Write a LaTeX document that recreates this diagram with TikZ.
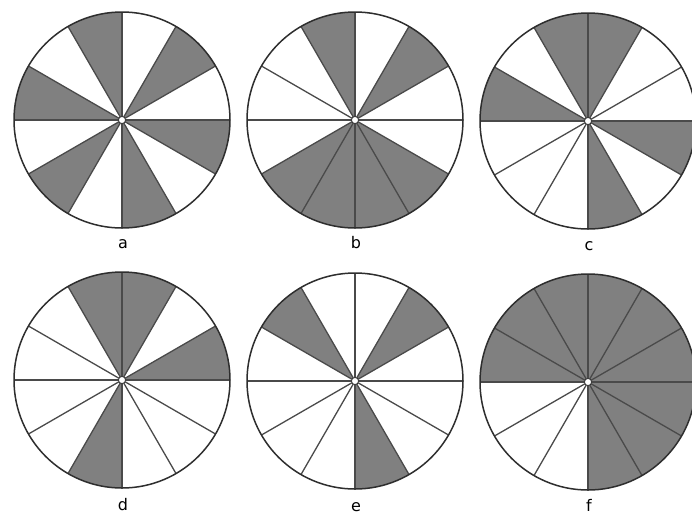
\documentclass[tikz,border=0pt]{standalone}
\usepackage{fontspec}
\setmainfont{DejaVu Sans}
\definecolor{sectorgray}{HTML}{808080}
\definecolor{spokegray}{HTML}{4A4A4A}
\definecolor{rimgray}{HTML}{2E2E2E}
\tikzset{
  sectorfill/.style={fill=sectorgray},
  spoke/.style={draw=spokegray, line width=1.3pt},
  rim/.style={draw=rimgray, line width=1.5pt},
  hub/.style={circle, fill=white, draw=rimgray, line width=0.7pt, inner sep=0pt, minimum size=7pt},
  lbl/.style={anchor=base, inner sep=0pt, font=\fontsize{16}{19}\selectfont, text=black}
}
\newcommand\pieDiagram[6]{%
  \begin{scope}[shift={(#1,#2)}, y=1pt]
    \foreach \k in {#3} {
      \fill[sectorfill] (0,0) -- (\k*30:108pt) arc[start angle=\k*30, end angle=\k*30+30, radius=108pt] -- cycle;
    }
    \foreach \k in {0,...,11} {
      \draw[spoke] (0,0) -- (\k*30:108pt);
    }
    \draw[rim] (0,0) circle[radius=108pt];
    \node[hub] (#5hub) at (0,0) {};
  \end{scope}
  \node[lbl] (#5lbl) at (#1+1,#6) {#4};
}
\begin{document}
\begin{tikzpicture}[x=1pt,y=-1pt]
  \fill[white] (0,0) rectangle (692,515);
  \useasboundingbox (0,0) rectangle (692,515);
  \pieDiagram{122}{120}{1,3,5,7,9,11}{a}{pa}{248}
  \pieDiagram{355}{120}{1,3,7,8,9,10}{b}{pb}{248}
  \pieDiagram{588}{121}{2,3,5,9,11}{c}{pc}{250}
  \pieDiagram{122}{380}{0,2,3,8}{d}{pd}{510}
  \pieDiagram{355}{381}{1,4,9}{e}{pe}{511}
  \pieDiagram{588}{382}{0,1,2,3,4,5,9,10,11}{f}{pf}{511}
\end{tikzpicture}
\end{document}
